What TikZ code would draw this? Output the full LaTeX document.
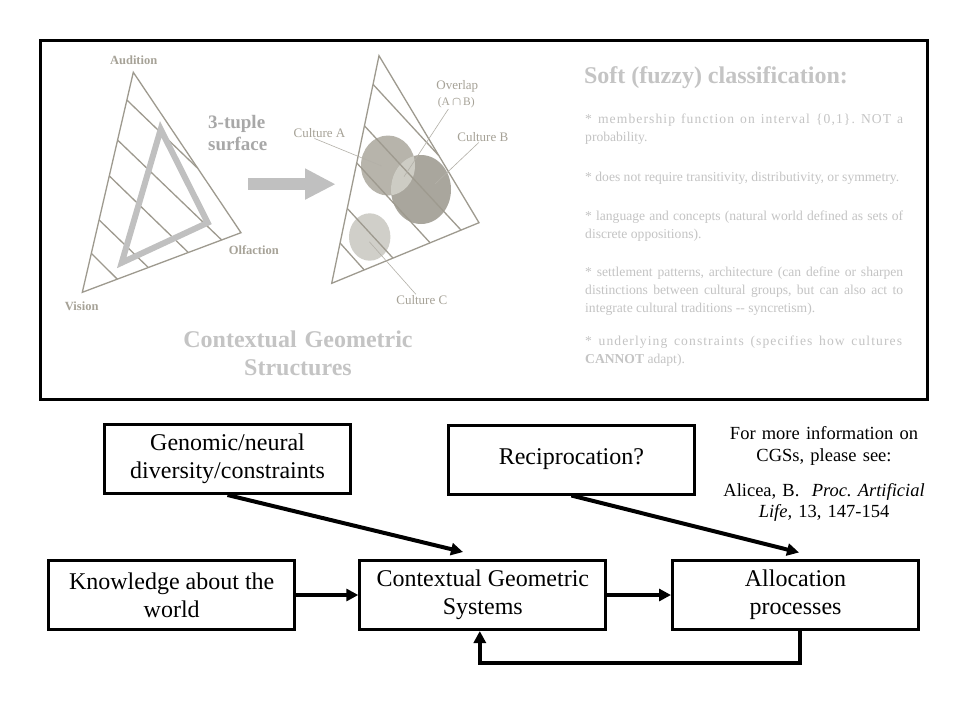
\documentclass[tikz,border=0pt]{standalone}
\usepackage{amsmath}
\usepackage{fontspec}
\setmainfont{Liberation Serif}
\usetikzlibrary{arrows.meta,calc}
\frenchspacing
\definecolor{triline}{HTML}{9E9A8F}
\definecolor{trilabel}{HTML}{A6A297}
\definecolor{tuplegray}{HTML}{A8A8A8}
\definecolor{bigarrow}{HTML}{C0C0C0}
\definecolor{paletext}{HTML}{C4C4C4}
\definecolor{fillA}{HTML}{B7B4AB}
\definecolor{fillB}{HTML}{A9A69D}
\definecolor{fillAB}{HTML}{CDCCC4}
\definecolor{fillC}{HTML}{D0CFC9}
\definecolor{leader}{HTML}{B3B0A8}
\begin{document}
\begin{tikzpicture}[x=1pt,y=-1pt,
  tri/.style={draw=triline,line width=1.3pt,line join=miter},
  hatch/.style={draw=triline,line width=1.3pt},
  axislabel/.style={text=trilabel,font=\bfseries\fontsize{12.5}{14}\selectfont,inner sep=0pt},
  culturelabel/.style={text=trilabel,font=\fontsize{13}{15}\selectfont,inner sep=1pt},
  leaderline/.style={draw=leader,line width=0.6pt},
  paletxt/.style={text=paletext,inner sep=0pt},
  bodytxt/.style={text=paletext,font=\fontsize{13.6}{18}\selectfont,text width=318pt,align=justify,anchor=base west,inner sep=0pt},
  flowbox/.style={draw=black,line width=3pt,minimum width=246pt,minimum height=69pt,align=center,font=\fontsize{24}{28}\selectfont,inner sep=2pt},
  flowarrow/.style={draw=black,line width=4pt,-{Triangle[length=12pt,width=12pt]}}
]
\useasboundingbox (0,0) rectangle (960,720);
\fill[white] (0,0) rectangle (960,720);

% ---------- upper panel ----------
\draw[line width=3pt] (40,40) rectangle (927,399.2);

% left triangle
\coordinate (LA) at (133.3,72.3);
\coordinate (LO) at (241,232.7);
\coordinate (LV) at (82.3,292.3);
\foreach \s/\e in {0.823/0.2205,0.671/0.416,0.471/0.668,0.308/0.878}
  \draw[hatch] ($(LA)!\s!(LV)$) -- ($(LV)!\e!(LO)$);
\draw[hatch] ($(LA)!0.126!(LV)$) -- ($(LA)!0.5985!(LO)$);
\draw[tri] (LA) -- (LO) -- (LV) -- cycle;
\draw[draw=bigarrow,line width=6pt] (160.7,129.3) -- (207.7,222.7) -- (121.7,262.7) -- cycle;

\node[axislabel] (aud) at (133.7,60.7) {Audition};
\node[axislabel] (olf) at (253.8,250) {Olfaction};
\node[axislabel] (vis) at (81.7,306.7) {Vision};

\node[text=tuplegray,font=\bfseries\fontsize{19}{21.7}\selectfont,anchor=base west,inner sep=0pt,text width=80pt,align=left] (tuple) at (208,128.3) {3-tuple\\surface};

% big arrow
\fill[bigarrow] (248,178.3) rectangle (305.5,190);
\fill[bigarrow] (305,168.3) -- (335,184.2) -- (305,199.8) -- cycle;

% middle triangle with cultures
\coordinate (MA) at (379,55.7);
\coordinate (MR) at (479,222.7);
\coordinate (MB) at (331.7,283.3);
\fill[fillA] (388,165.5) ellipse [x radius=27,y radius=30];
\fill[fillB] (421,189.5) ellipse [x radius=30,y radius=34.5];
\begin{scope}
  \clip (388,165.5) ellipse [x radius=27,y radius=30];
  \fill[fillAB] (421,189.5) ellipse [x radius=30,y radius=34.5];
\end{scope}
\fill[fillC] (369.7,237) ellipse [x radius=20.7,y radius=23.7];
\foreach \s/\e in {0.823/0.2205,0.671/0.416,0.471/0.668,0.308/0.878}
  \draw[hatch] ($(MA)!\s!(MB)$) -- ($(MB)!\e!(MR)$);
\draw[hatch] ($(MA)!0.126!(MB)$) -- ($(MA)!0.5985!(MR)$);
\draw[tri] (MA) -- (MR) -- (MB) -- cycle;

\node[culturelabel] (cA) at (319.5,132.7) {Culture A};
\node[culturelabel] (ov) at (457.3,86.7) {Overlap};
\node[culturelabel,font=\fontsize{11.5}{13}\selectfont] (ovAB) at (456.3,102.7) {(A$\,\boldsymbol{\cap}\,$B)};
\node[culturelabel] (cB) at (482.8,136.7) {Culture B};
\node[culturelabel] (cC) at (421.8,300) {Culture C};
\coordinate (pA) at (381.7,166);
\coordinate (pAB) at (404,176.7);
\coordinate (pB) at (435,184);
\coordinate (pC) at (369.3,241.7);
\draw[leaderline] ([xshift=-5pt]cA.south) -- (pA);
\draw[leaderline] ([xshift=-8pt]ovAB.south) -- (pAB);
\draw[leaderline] ([xshift=-4pt]cB.south) -- (pB);
\draw[leaderline] ([xshift=-6pt]cC.north) -- (pC);

\node[paletxt,font=\bfseries\fontsize{24}{27.7}\selectfont,text width=260pt,align=center,anchor=base] (cgstitle) at (298,347.3) {Contextual Geometric\\Structures};

% right text
\node[paletxt,font=\bfseries\fontsize{24}{28}\selectfont,anchor=base] (soft) at (716,83.3) {Soft (fuzzy) classification:};
\node[bodytxt] (p1) at (585,123.5) {{\addfontfeatures{LetterSpace=8}* membership function on interval \{0,1\}. NOT a}\linebreak probability.};
\node[text=paletext,font=\fontsize{13.6}{18}\selectfont,anchor=base west,inner sep=0pt] (p2) at (585,181.8) {* does not require transitivity, distributivity, or symmetry.};
\node[bodytxt] (p3) at (585,220.2) {* language and concepts (natural world defined as sets of\linebreak discrete oppositions).};
\node[bodytxt] (p4) at (585,276.8) {* settlement patterns, architecture (can define or sharpen\linebreak distinctions between cultural groups, but can also act to\linebreak integrate cultural traditions -{}- syncretism).};
\node[bodytxt] (p5) at (585,345.2) {{\addfontfeatures{LetterSpace=8}* underlying constraints (specifies how cultures}\linebreak \textbf{CANNOT} adapt).};

% ---------- lower flow diagram ----------
\node[flowbox] (gen) at (227.5,459) {Genomic/neural\\diversity/constraints};
\node[flowbox] (rec) at (571.4,459.5) {Reciprocation?};
\node[flowbox] (know) at (171.7,595) {Knowledge about the\\world};
\node[flowbox] (cgs) at (482.8,595) {Contextual Geometric\\Systems};
\node[flowbox] (alloc) at (795.5,595) {Allocation\\processes};

\node[font=\fontsize{18.5}{22}\selectfont,text width=220pt,align=center,anchor=base,inner sep=0pt] (ref1) at (824,439.3) {For more information on\\CGSs, please see:};
\node[font=\fontsize{18.5}{21.5}\selectfont,text width=220pt,align=center,anchor=base,inner sep=0pt] (ref2) at (824,496) {Alicea, B.~ \textit{Proc. Artificial}\\\textit{Life,} 13, 147-154};

\coordinate (t1) at (463,552);
\coordinate (t2) at (799,552.5);
\draw[flowarrow] (gen.south) -- (t1);
\draw[flowarrow] (rec.south) -- (t2);
\draw[flowarrow] (know.east) -- (cgs.west);
\draw[flowarrow] (cgs.east) -- (alloc.west);
\draw[flowarrow] ([xshift=4.5pt]alloc.south) -- ++(0,32.3) -| ([xshift=-3pt]cgs.south);
\end{tikzpicture}
\end{document}
